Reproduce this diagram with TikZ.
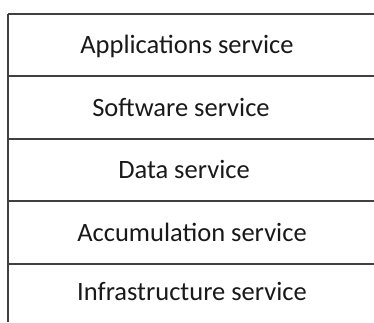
\documentclass[tikz,border=0pt]{standalone}
\usepackage{fontspec}
\setmainfont{Carlito}
\begin{document}
\begin{tikzpicture}[x=1pt,y=-1pt,
  rule/.style={draw=black!75,line width=2pt},
  lbl/.style={font=\fontsize{26.5}{30}\selectfont,text=black!90,inner sep=0pt,anchor=base}]
\useasboundingbox (0,0) rectangle (374,322);
\coordinate (tl) at (8,14);
\coordinate (bl) at (8,322);
\coordinate (r0) at (374,14);
\coordinate (l1) at (8,76);   \coordinate (r1) at (374,76);
\coordinate (l2) at (8,138.5);\coordinate (r2) at (374,138.5);
\coordinate (l3) at (8,201);  \coordinate (r3) at (374,201);
\coordinate (l4) at (8,264);  \coordinate (r4) at (374,264);
\draw[rule] (tl) -- (bl);
\draw[rule] (tl) -- (r0);
\draw[rule] (l1) -- (r1);
\draw[rule] (l2) -- (r2);
\draw[rule] (l3) -- (r3);
\draw[rule] (l4) -- (r4);
\node[lbl] (a) at (187,53) {Applications service};
\node[lbl] (s) at (181,116.5) {Software service};
\node[lbl] (d) at (184,178) {Data service};
\node[lbl] (c) at (192,241.5) {Accumulation service};
\node[lbl] (i) at (192,300) {Infrastructure service};
\end{tikzpicture}
\end{document}
